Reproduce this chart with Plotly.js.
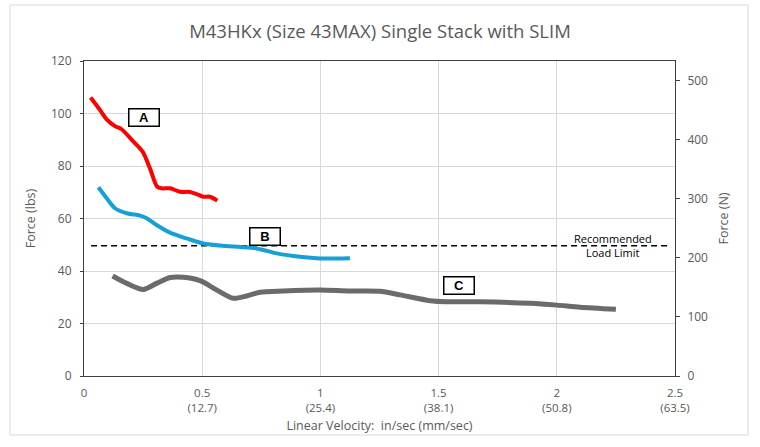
<!DOCTYPE html>
<html>
<head>
<meta charset="utf-8">
<script src="https://cdn.plot.ly/plotly-3.0.1.min.js"></script>
<style>
  html, body { margin: 0; padding: 0; background: #fff; }
  #plot { width: 760px; height: 447px; }
</style>
</head>
<body>
<div id="plot"></div>
<script>
// Curve A (red)
const aSpeed = [0.028, 0.068, 0.096, 0.131, 0.159, 0.209, 0.248, 0.279, 0.310, 0.329, 0.364, 0.406, 0.448, 0.477, 0.505, 0.533, 0.564];
const aForce = [106.1, 101.3, 97.8, 95.2, 94.0, 89.3, 85.5, 79.1, 72.1, 71.5, 71.5, 70.2, 70.1, 69.3, 68.3, 68.3, 66.8];

// Curve B (blue)
const bSpeed = [0.061, 0.096, 0.131, 0.181, 0.237, 0.265, 0.307, 0.364, 0.434, 0.505, 0.604, 0.730, 0.815, 0.914, 0.998, 1.125];
const bForce = [71.9, 67.7, 63.9, 62.0, 61.1, 60.1, 57.5, 54.6, 52.4, 50.5, 49.5, 48.6, 46.7, 45.4, 44.8, 44.9];

// Curve C (gray)
const cSpeed = [0.121, 0.181, 0.251, 0.307, 0.364, 0.420, 0.491, 0.561, 0.632, 0.688, 0.745, 0.843, 0.998, 1.125, 1.252, 1.337, 1.464, 1.534, 1.675, 1.887, 2.0, 2.098, 2.250];
const cForce = [38.1, 35.3, 33.0, 35.3, 37.5, 37.6, 36.3, 32.8, 29.6, 30.5, 31.9, 32.4, 32.8, 32.4, 32.3, 30.9, 28.7, 28.3, 28.3, 27.7, 27.0, 26.2, 25.4];

// Recommended load limit (lbs)
const limitSpeed = [0.03, 2.47];
const limitForce = [49.6, 49.6];

const xTickVals = [0, 0.5, 1, 1.5, 2, 2.5];
const xTickText = ['0', '0.5<br>(12.7)', '1<br>(25.4)', '1.5<br>(38.1)', '2<br>(50.8)', '2.5<br>(63.5)'];

const LBS_TO_N = 4.448222;
const font = 'Open Sans, Arial, sans-serif';
const grey = '#595959';

const traces = [
  {
    x: limitSpeed, y: limitForce, mode: 'lines', hoverinfo: 'skip',
    line: { color: '#000', width: 1.5, dash: '6px,4px' }
  },
  {
    x: cSpeed, y: cForce, mode: 'lines',
    line: { color: '#6b6b6b', width: 5, shape: 'spline', smoothing: 0.8 }
  },
  {
    x: bSpeed, y: bForce, mode: 'lines',
    line: { color: '#17a0d8', width: 4, shape: 'spline', smoothing: 0.8 }
  },
  {
    x: aSpeed, y: aForce, mode: 'lines',
    line: { color: '#ff0000', width: 4, shape: 'spline', smoothing: 0.8 }
  },
  // dummy trace so the right axis is drawn
  {
    x: [0], y: [0], yaxis: 'y2', mode: 'markers', hoverinfo: 'skip',
    marker: { opacity: 0 }
  }
];

function boxLabel(text, x, y) {
  return {
    x: x, y: y, xref: 'x', yref: 'y', text: '<b>' + text + '</b>',
    showarrow: false, font: { family: 'Arial, sans-serif', size: 13, color: '#000' },
    bordercolor: '#000', borderwidth: 1.5, borderpad: 1,
    width: 27, height: 14, bgcolor: '#fff'
  };
}

const layout = {
  width: 760,
  height: 447,
  margin: { l: 84, r: 85, t: 61, b: 71 },
  paper_bgcolor: '#fff',
  plot_bgcolor: '#fff',
  showlegend: false,
  font: { family: font, color: grey },
  title: {
    text: 'M43HKx (Size 43MAX) Single Stack with SLIM',
    font: { family: font, size: 18.5, color: grey },
    x: 0.5, xanchor: 'center', y: 0.93, yanchor: 'middle'
  },
  xaxis: {
    range: [0, 2.5],
    tickvals: xTickVals,
    ticktext: xTickText,
    tickfont: { size: 11.5, color: grey },
    ticklabelstandoff: 6,
    showgrid: true, gridcolor: '#d9d9d9', gridwidth: 1,
    zeroline: false,
    showline: true, linecolor: '#404040', linewidth: 1, mirror: true,
    ticks: '',
    title: { text: 'Linear Velocity:  in/sec (mm/sec)', font: { size: 12.5, color: grey }, standoff: 7 }
  },
  yaxis: {
    range: [0, 120],
    dtick: 20,
    tickfont: { size: 12, color: grey },
    ticklabelstandoff: 6,
    showgrid: true, gridcolor: '#d9d9d9', gridwidth: 1,
    zeroline: false,
    showline: true, linecolor: '#404040', linewidth: 1, mirror: true,
    ticks: 'outside', ticklen: 3, tickcolor: '#404040',
    title: { text: 'Force (lbs)', font: { size: 12.5, color: grey }, standoff: 12 }
  },
  yaxis2: {
    overlaying: 'y', side: 'right',
    range: [0, 120 * LBS_TO_N],
    dtick: 100,
    tickfont: { size: 12, color: grey },
    ticklabelstandoff: 5,
    showgrid: false, zeroline: false,
    showline: true, linecolor: '#404040', linewidth: 1,
    ticks: 'outside', ticklen: 4, tickcolor: '#404040',
    title: { text: 'Force (N)', font: { size: 12.5, color: grey }, standoff: 12 }
  },
  annotations: [
    boxLabel('A', 0.252, 98.5),
    boxLabel('B', 0.765, 53.3),
    boxLabel('C', 1.587, 34.3),
    {
      x: 2.238, y: 52.3, xref: 'x', yref: 'y', text: 'Recommended',
      showarrow: false, font: { family: font, size: 11, color: '#000' }
    },
    {
      x: 2.238, y: 46.9, xref: 'x', yref: 'y', text: 'Load Limit',
      showarrow: false, font: { family: font, size: 11, color: '#000' }
    }
  ],
  shapes: [
    {
      type: 'rect', xref: 'paper', yref: 'paper',
      x0: -0.1252, x1: 1.1235, y0: -0.1873, y1: 1.1778,
      line: { color: '#d9d9d9', width: 1 }, layer: 'below'
    }
  ]
};

Plotly.newPlot('plot', traces, layout, { displayModeBar: false, staticPlot: true });
</script>
</body>
</html>
